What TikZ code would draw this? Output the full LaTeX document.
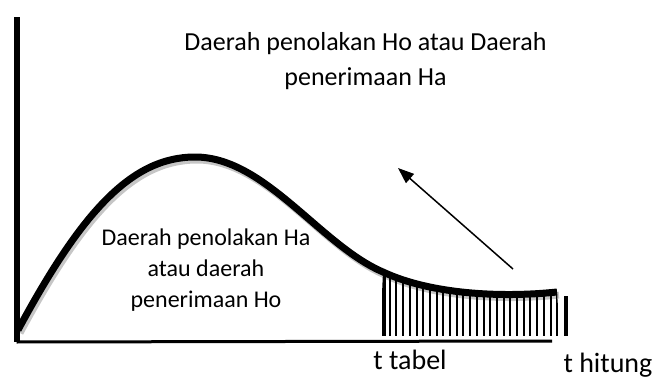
\documentclass[tikz,border=0pt]{standalone}
\usepackage{fontspec}
\setmainfont{Carlito}
\usetikzlibrary{arrows.meta,positioning}

\tikzset{
  axisline/.style={line width=3pt},
  curveline/.style={line width=7pt},
  hatchline/.style={line width=2pt},
  label/.style={inner sep=0pt,align=center,anchor=base}
}

\begin{document}
\begin{tikzpicture}[x=1pt,y=-1pt,font=\fontsize{24}{31}\selectfont]
    \useasboundingbox (0,0) rectangle (657,380);
    \coordinate (ytop) at (16.5,17);
    \coordinate (origin) at (16.5,342);
    \coordinate (xend) at (552,341);
    \coordinate (arrowstart) at (513,269);
    \coordinate (arrowend) at (398,168);

    \draw[gray!45,curveline,shift={(2,3)}] (18,330) .. controls (80,215) and (130,157) .. (195,157)
      .. controls (265,157) and (320,245) .. (383,272) .. controls (430,294) and (500,298) .. (557,292);

    \begin{scope}
      \clip (383,272) .. controls (430,294) and (500,298) .. (557,292) -- (560,336) -- (380,336) -- cycle;
      \foreach \i in {1,...,26}
        \draw[hatchline] (383+\i*6.7,250) -- (383+\i*6.7,336);
      \draw[line width=4.5pt] (384,250) -- (384,336);
    \end{scope}

    \draw[curveline] (18,330) .. controls (80,215) and (130,157) .. (195,157)
      .. controls (265,157) and (320,245) .. (383,272) .. controls (430,294) and (500,298) .. (557,292);

    \draw[line width=4.5pt] (566,296) -- (566,336);

    \draw[line width=6pt] (ytop) -- (origin);
    \draw[axisline] (origin) -- (xend);

    \draw[line width=1.5pt,-{Triangle[length=16pt,width=12pt]}] (arrowstart) -- (arrowend);

    \node[label,font=\fontsize{26}{35}\selectfont] (tolak) at (365.5,85) {Daerah penolakan Ho atau Daerah\\penerimaan Ha};
    \node[label] (terima) at (206,307) {Daerah penolakan Ha\\atau daerah\\penerimaan Ho};
    \node[label,font=\fontsize{28}{34}\selectfont] (ttabel) at (410,369) {t tabel};
    \node[label,font=\fontsize{28}{34}\selectfont] (thitung) at (608,372) {t hitung};
  \end{tikzpicture}
\end{document}
